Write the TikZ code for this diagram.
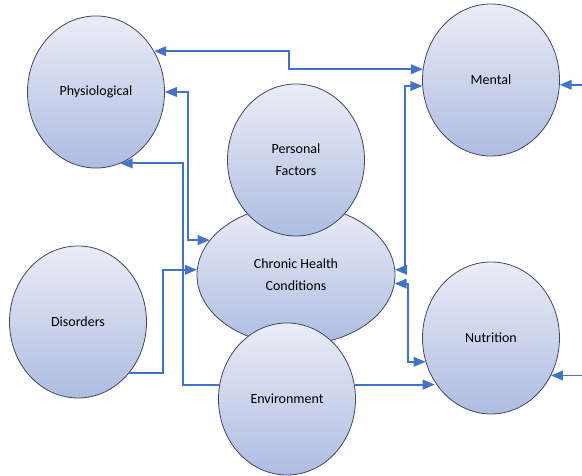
\documentclass[tikz,border=0pt]{standalone}
\usepackage{fontspec}
\setmainfont{Carlito}
\usepackage{tikz}
\usepackage{xcolor}
\usetikzlibrary{
    arrows,
    shapes,
    calc
}
\definecolor{linkblue}{RGB}{68,114,196}
\definecolor{bubbletop}{RGB}{234,237,247}
\definecolor{bubblebot}{RGB}{174,188,225}
\definecolor{bubbleline}{RGB}{64,72,96}
\tikzset{
    bubble/.style={ellipse, draw=bubbleline, line width=0.8pt, top color=bubbletop, bottom color=bubblebot,
        minimum width=137pt, minimum height=152pt, inner sep=0pt, align=center,
        font=\fontsize{14}{22}\selectfont},
    link/.style={draw=linkblue, line width=1.8pt, >=triangle 45}
}

\begin{document}
\begin{tikzpicture}[x=1pt, y=1pt]
                    \useasboundingbox (0,0) rectangle (582,476);
                    \node[bubble] (phys) at (96,384) {Physiological};
                    \node[bubble] (mental) at (491,396) {Mental};
                    \node[bubble] (disorders) at (78,154) {Disorders};
                    \node[bubble] (nutrition) at (491,138) {Nutrition};
                    \node[bubble, minimum width=198pt, minimum height=140pt] (chronic) at (296,201) {Chronic Health\\Conditions};
                    \node[bubble] (personal) at (296,316) {Personal\\Factors};
                    \node[bubble] (env) at (287,77) {Environment};
                    \coordinate (rim) at (582,0);

                    \draw[link, <->] (phys.35) -- ++(135,0) |- (mental.171);
                    \draw[link, <->] (phys.east) -- ++(23,0) |- (chronic.158);
                    \draw[link, ->] (env.168) -- ++(-36,0) |- (phys.289);
                    \draw[link, ->] (disorders.315) -- ++(34,0) |- (chronic.177);
                    \draw[link, <->] (chronic.3) -- ++(10,0) |- (mental.185);
                    \draw[link, <->] (chronic.355) -- ++(13,0) |- (nutrition.200);
                    \draw[link, ->] (env.12) -- (env.12 -| nutrition.218);
                    \draw[link, ->] (rim |- mental.356) -- (mental.356);
                    \draw[link, ->] (rim |- nutrition.328) -- (nutrition.328);
                \end{tikzpicture}
\end{document}
